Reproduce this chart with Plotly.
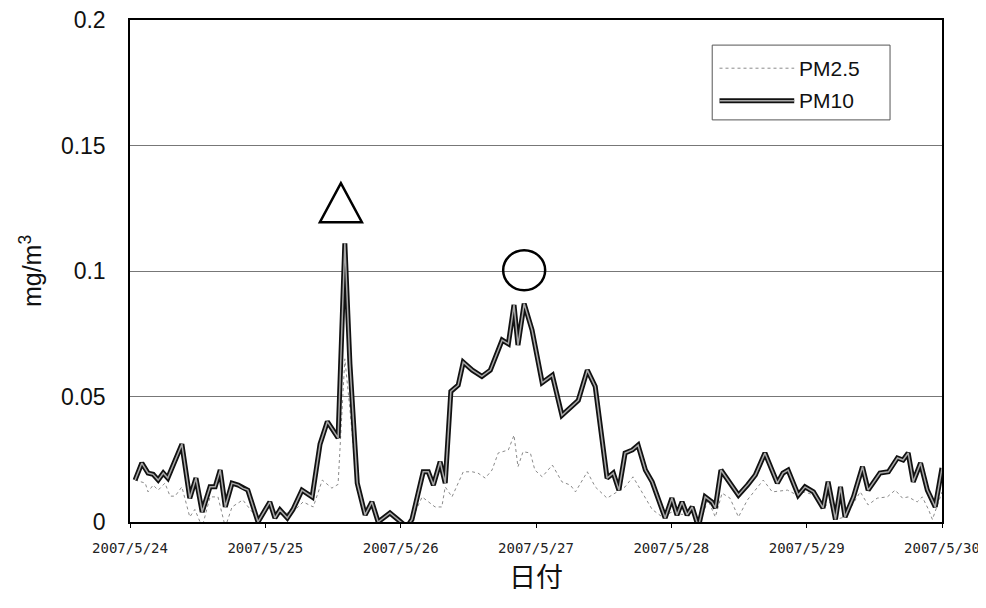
import plotly.graph_objects as go

# ---- data (hours since 2007/5/24 00:00, concentration in mg/m3) ----
pm10_hours = [0.9, 2.1, 3.2, 4.1, 5.0, 5.9, 6.7, 9.2, 10.6, 11.7,
              12.8, 14.2, 15.1, 16.0, 16.9, 18.1, 19.2, 20.0, 20.9, 22.7,
              24.8, 25.7, 26.6, 27.9, 28.9, 30.5, 32.3, 33.7, 35.0, 36.9,
              38.1, 39.0, 40.3, 41.7, 42.9, 44.0, 46.1, 47.5, 49.1, 50.0,
              52.0, 52.9, 53.8, 55.0, 55.9, 56.9, 58.2, 59.1, 60.7, 62.4,
              63.9, 66.0, 67.1, 68.1, 68.8, 69.9, 71.3, 73.1, 74.9, 76.6,
              78.4, 79.5, 81.1, 82.5, 84.6, 85.7, 86.7, 87.8, 89.1, 90.1,
              91.4, 92.6, 94.9, 96.1, 97.0, 97.9, 98.8, 99.7, 100.8, 102.0,
              103.2, 103.8, 104.8, 106.1, 107.9, 109.5, 110.9, 112.6, 114.8, 115.8,
              116.7, 118.5, 119.7, 121.2, 122.9, 123.8, 125.1, 126.0, 126.8, 128.3,
              129.9, 130.9, 133.0, 134.5, 136.1, 137.1, 138.0, 138.9, 140.2, 141.4,
              142.8, 144.0]
pm10_values = [0.0167, 0.0235, 0.0195, 0.019, 0.0167, 0.0195, 0.0175, 0.031, 0.0095, 0.0175,
               0.004, 0.014, 0.014, 0.0207, 0.006, 0.0155, 0.0147, 0.0135, 0.0127, 0.0,
               0.008, 0.0016, 0.0048, 0.0016, 0.005, 0.0127, 0.01, 0.031, 0.04, 0.0335,
               0.111, 0.063, 0.0155, 0.0028, 0.008, 0.0, 0.0036, 0.001, -0.002, 0.001,
               0.02, 0.02, 0.0147, 0.024, 0.0155, 0.052, 0.0545, 0.0637, 0.0605, 0.058,
               0.0605, 0.0725, 0.071, 0.0865, 0.0705, 0.087, 0.0765, 0.0555, 0.0585, 0.0425,
               0.046, 0.0485, 0.0605, 0.054, 0.0175, 0.0195, 0.0127, 0.0275, 0.0287, 0.0306,
               0.0207, 0.016, 0.0016, 0.0095, 0.0028, 0.008, 0.0028, 0.006, -0.002, 0.01,
               0.008, 0.0056, 0.0207, 0.0167, 0.0107, 0.0147, 0.0187, 0.0275, 0.0155, 0.0195,
               0.0207, 0.0107, 0.014, 0.012, 0.0056, 0.016, 0.001, 0.014, 0.002, 0.01,
               0.022, 0.0127, 0.0195, 0.02, 0.0255, 0.0247, 0.0275, 0.016, 0.0235, 0.0127,
               0.006, 0.0215]

pm25_hours = [0.9, 2.7, 3.2, 4.1, 5.0, 6.2, 7.1, 8.0, 9.2, 10.6,
              11.5, 12.8, 14.2, 15.6, 16.9, 18.1, 19.2, 20.0, 22.7, 24.8,
              26.6, 28.9, 30.7, 32.5, 34.1, 35.8, 36.9, 38.1, 39.0, 40.3,
              41.7, 42.9, 44.0, 46.1, 47.5, 49.1, 50.0, 51.8, 54.1, 55.3,
              55.9, 57.1, 58.2, 59.1, 60.7, 61.7, 63.0, 64.2, 65.3, 67.1,
              68.1, 68.8, 69.7, 71.0, 71.8, 73.1, 74.9, 76.6, 78.1, 79.0,
              81.1, 82.5, 84.6, 86.0, 87.8, 89.2, 90.8, 92.6, 94.4, 96.1,
              97.9, 99.7, 100.8, 102.5, 103.8, 105.0, 106.4, 107.9, 109.5, 112.3,
              113.9, 116.6, 118.3, 119.7, 121.2, 122.9, 124.2, 125.1, 126.8, 129.5,
              130.9, 132.5, 134.3, 135.7, 137.0, 138.0, 139.6, 140.5, 141.6, 142.3,
              144.0]
pm25_values = [0.0167, 0.0155, 0.012, 0.0147, 0.0127, 0.0155, 0.0103, 0.0103, 0.014, 0.002,
               0.005, -0.002, 0.01, 0.01, -0.002, 0.006, 0.0076, 0.0088, 0.001, 0.006,
               0.003, 0.004, 0.008, 0.006, 0.0167, 0.0135, 0.015, 0.065, 0.045, 0.0127,
               0.0028, 0.006, 0.0, 0.003, 0.001, -0.002, 0.001, 0.01, 0.006, 0.006,
               0.014, 0.01, 0.0155, 0.02, 0.02, 0.0195, 0.0175, 0.0207, 0.0275, 0.0287,
               0.0346, 0.022, 0.028, 0.0275, 0.0207, 0.018, 0.0227, 0.016, 0.0147, 0.012,
               0.02, 0.014, 0.0095, 0.0115, 0.014, 0.018, 0.012, 0.005, 0.002, 0.004,
               0.003, 0.004, -0.002, 0.0088, 0.002, 0.0115, 0.0095, 0.002, 0.0088, 0.0167,
               0.012, 0.0127, 0.0107, 0.012, 0.0107, 0.0056, 0.008, 0.001, 0.002, 0.012,
               0.0068, 0.0095, 0.01, 0.0127, 0.0095, 0.01, 0.008, 0.01, 0.005, 0.001,
               0.012]

tick_hours = [0, 24, 48, 72, 96, 120, 144]
tick_labels = ["2007/5/24", "2007/5/25", "2007/5/26", "2007/5/27",
               "2007/5/28", "2007/5/29", "2007/5/30"]
y_ticks = [0, 0.05, 0.1, 0.15, 0.2]
y_tick_labels = ["0", "0.05", "0.1", "0.15", "0.2"]

# marks drawn on the chart: triangle over the spike, circle over the broad peak
triangle_pos = (37.4, 0.127)
circle_pos = (69.9, 0.1003)

fig = go.Figure()
fig.add_trace(go.Scatter(x=pm25_hours, y=pm25_values, mode="lines", name="PM2.5",
                         line=dict(color="#8a8a8a", width=1, dash="dot"), showlegend=False))
fig.add_trace(go.Scatter(x=pm10_hours, y=pm10_values, mode="lines", name="PM10",
                         line=dict(color="#111111", width=5), showlegend=False))
fig.add_trace(go.Scatter(x=pm10_hours, y=pm10_values, mode="lines", name="PM10 core",
                         line=dict(color="#a8a8a8", width=1.5), showlegend=False))

shapes = []
shapes.append(dict(type="path", xref="x", yref="y", xsizemode="pixel", ysizemode="pixel",
                   xanchor=triangle_pos[0], yanchor=triangle_pos[1],
                   path="M -21 -19 L 21 -19 L 0 20 Z",
                   line=dict(color="black", width=2.5), fillcolor="rgba(0,0,0,0)"))
shapes.append(dict(type="circle", xref="x", yref="y", xsizemode="pixel", ysizemode="pixel",
                   xanchor=circle_pos[0], yanchor=circle_pos[1],
                   x0=-21, x1=21, y0=-20, y1=20,
                   line=dict(color="black", width=2.5)))
# manual legend
shapes.append(dict(type="rect", xref="paper", yref="paper", x0=0.717, x1=0.936, y0=0.801, y1=0.950,
                   line=dict(color="#555555", width=1), fillcolor="white", layer="above"))
shapes.append(dict(type="line", xref="paper", yref="paper", x0=0.726, x1=0.818, y0=0.904, y1=0.904,
                   line=dict(color="#8a8a8a", width=1, dash="dot"), layer="above"))
shapes.append(dict(type="line", xref="paper", yref="paper", x0=0.726, x1=0.818, y0=0.839, y1=0.839,
                   line=dict(color="#111111", width=5), layer="above"))
shapes.append(dict(type="line", xref="paper", yref="paper", x0=0.726, x1=0.818, y0=0.839, y1=0.839,
                   line=dict(color="#a8a8a8", width=1.5), layer="above"))

annotations = [
    dict(xref="paper", yref="paper", x=0.821, y=0.904, text="PM2.5", showarrow=False,
         xanchor="left", yanchor="middle", font=dict(family="Liberation Sans", size=21, color="#111")),
    dict(xref="paper", yref="paper", x=0.821, y=0.839, text="PM10", showarrow=False,
         xanchor="left", yanchor="middle", font=dict(family="Liberation Sans", size=21, color="#111")),
]

fig.update_layout(
    width=978, height=600,
    margin=dict(l=122, r=44, t=12, b=86, autoexpand=False),
    paper_bgcolor="white", plot_bgcolor="white",
    shapes=shapes, annotations=annotations,
    xaxis=dict(range=[0, 144], tickvals=tick_hours, ticktext=tick_labels, automargin=False,
               showgrid=False, zeroline=False, showline=True, linecolor="black", linewidth=1.5,
               mirror=True, ticks="outside", ticklen=4, tickcolor="black",
               ticklabeloverflow="allow", ticklabelstandoff=8,
               tickfont=dict(family="DejaVu Sans Mono", size=14, color="#222"),
               title=dict(text="日付", font=dict(family="Noto Sans CJK JP", size=27, color="#111"),
                          standoff=13)),
    yaxis=dict(range=[0, 0.2], tickvals=y_ticks, ticktext=y_tick_labels, automargin=False,
               showgrid=True, gridcolor="#777777", gridwidth=1, zeroline=False,
               showline=True, linecolor="black", linewidth=1.5, mirror=True,
               ticks="", ticklabelstandoff=18, ticklabeloverflow="allow",
               tickfont=dict(family="Liberation Sans", size=23, color="#111"),
               title=dict(text="mg/m<sup>3</sup>", font=dict(family="Liberation Sans", size=25, color="#111"),
                          standoff=12)),
)

fig.write_html("out.html")
